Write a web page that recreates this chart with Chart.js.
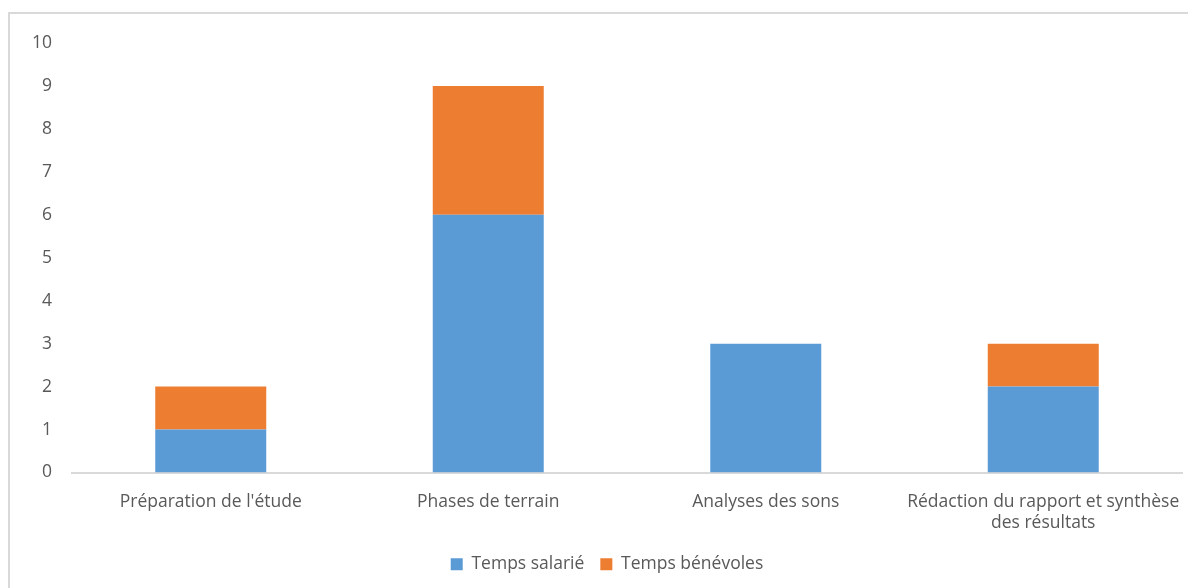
<!DOCTYPE html>
<html>
<head>
<meta charset="utf-8">
<script src="https://cdn.jsdelivr.net/npm/chart.js@4/dist/chart.umd.min.js"></script>
<style>
  html, body { margin: 0; padding: 0; background: #fff; overflow: hidden; }
  #frame {
    position: absolute; left: 8px; top: 12px; width: 1300px; height: 700px;
    border-left: 2px solid #d9d9d9; border-top: 2px solid #d9d9d9;
  }
  #wrap { position: absolute; left: 0; top: 0; width: 1188px; height: 588px; }
</style>
</head>
<body>
<div id="frame"></div>
<div id="wrap"><canvas id="chart"></canvas></div>
<script>
const categories = [
  "Préparation de l'étude",
  'Phases de terrain',
  'Analyses des sons',
  ['Rédaction du rapport et synthèse', 'des résultats']
];
const tempsSalarie = [1, 6, 3, 2];
const tempsBenevoles = [1, 3, 0, 1];
const yTicks = [0, 1, 2, 3, 4, 5, 6, 7, 8, 9, 10];

const textColor = '#595959';
Chart.defaults.font.family = '"Open Sans", sans-serif';
Chart.defaults.font.size = 17.5;
Chart.defaults.color = textColor;

// nudge the legend a little to the right, centred under the framed area
const legendShift = {
  id: 'legendShift',
  afterLayout(chart) {
    chart.legend.left += 16;
    chart.legend.right += 16;
  }
};

new Chart(document.getElementById('chart'), {
  type: 'bar',
  data: {
    labels: categories,
    datasets: [{
      label: 'Temps salarié',
      data: tempsSalarie,
      backgroundColor: '#5B9BD5',
      barPercentage: 0.4,
      categoryPercentage: 1
    }, {
      label: 'Temps bénévoles',
      data: tempsBenevoles,
      backgroundColor: '#ED7D31',
      barPercentage: 0.4,
      categoryPercentage: 1
    }]
  },
  plugins: [legendShift],
  options: {
    responsive: true,
    maintainAspectRatio: false,
    animation: false,
    layout: { padding: { left: 0, right: 6, top: 43, bottom: 5 } },
    plugins: {
      tooltip: { enabled: false },
      legend: {
        position: 'bottom',
        labels: {
          boxWidth: 12,
          boxHeight: 12,
          padding: 16,
          color: textColor
        }
      }
    },
    scales: {
      x: {
        stacked: true,
        grid: { display: false, drawTicks: false },
        border: { color: '#d9d9d9', width: 2 },
        ticks: { padding: 19, maxRotation: 0, autoSkip: false, color: textColor },
        afterFit(scale) {
          scale.height = 67;
          // labels fit inside their category, no extra side padding
          scale.paddingLeft = 0;
          scale.paddingRight = 0;
        }
      },
      y: {
        stacked: true,
        min: 0,
        max: 10,
        afterFit(scale) { scale.width = 72; },
        afterBuildTicks(scale) { scale.ticks = yTicks.map(v => ({ value: v })); },
        grid: { display: false, drawTicks: false },
        border: { display: false },
        ticks: { padding: 20, color: textColor }
      }
    }
  }
});
</script>
</body>
</html>
